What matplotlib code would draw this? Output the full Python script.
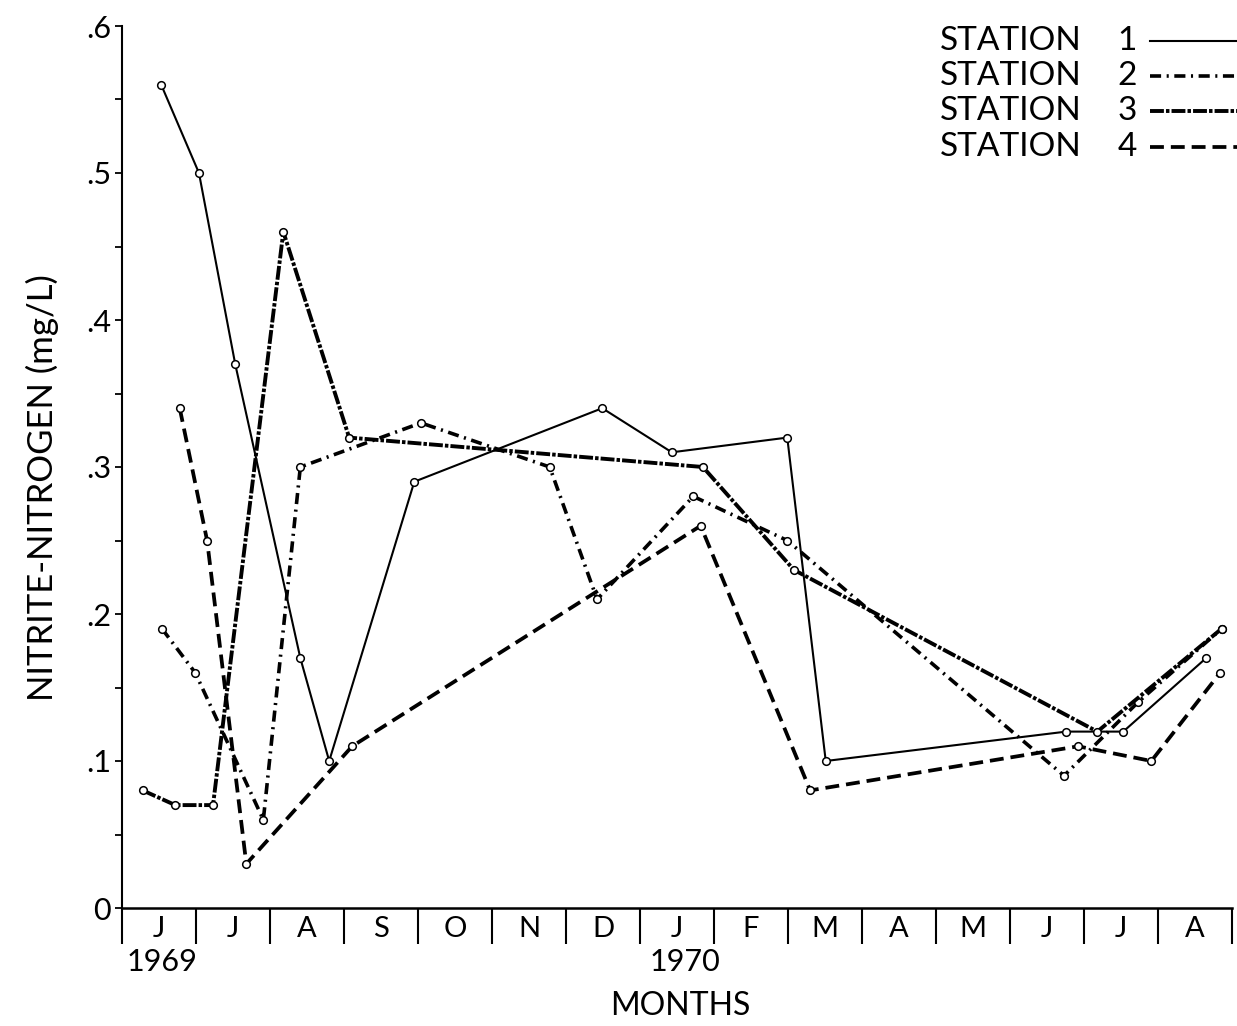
import matplotlib
matplotlib.use("Agg")
import matplotlib.pyplot as plt
from matplotlib.lines import Line2D

plt.rcParams['font.family'] = ['Lato', 'DejaVu Sans']
plt.rcParams['lines.scale_dashes'] = False

# month letters, June 1969 .. August 1970
months = ["J", "J", "A", "S", "O", "N", "D", "J", "F", "M", "A", "M", "J", "J", "A"]
years = ["1969", "1970"]
ytick_vals = [0, 0.1, 0.2, 0.3, 0.4, 0.5, 0.6]
ytick_labels = ["0", ".1", ".2", ".3", ".4", ".5", ".6"]

# x = months since start of June 1969
s1_x = [0.53, 1.04, 1.53, 2.41, 2.80, 3.95, 6.49, 7.43, 8.99, 9.51, 12.76, 13.53, 14.65]
s1_y = [0.56, 0.50, 0.37, 0.17, 0.10, 0.29, 0.34, 0.31, 0.32, 0.10, 0.12, 0.12, 0.17]

s2_x = [0.54, 0.99, 1.91, 2.41, 4.04, 5.78, 6.42, 7.72, 8.99, 12.73, 13.73, 14.86]
s2_y = [0.19, 0.16, 0.06, 0.30, 0.33, 0.30, 0.21, 0.28, 0.25, 0.09, 0.14, 0.19]

s3_x = [0.28, 0.72, 1.23, 2.18, 3.07, 7.85, 9.08, 13.18, 14.86]
s3_y = [0.08, 0.07, 0.07, 0.46, 0.32, 0.30, 0.23, 0.12, 0.19]

s4_x = [0.78, 1.15, 1.68, 3.11, 7.82, 9.30, 12.92, 13.91, 14.84]
s4_y = [0.34, 0.25, 0.03, 0.11, 0.26, 0.08, 0.11, 0.10, 0.16]

stations = ["1", "2", "3", "4"]

W, H = 1237, 1026
fig = plt.figure(figsize=(W / 100, H / 100), dpi=100)
ax = fig.add_axes([122 / W, 118 / H, 1110 / W, 882 / H])

styles = [
    dict(linestyle="-", lw=1.5),
    dict(dashes=(8, 4, 1.5, 4), lw=2.6),
    dict(dashes=(10, 1.5, 2.5, 1.5), lw=2.8),
    dict(dashes=(10, 5), lw=2.7),
]
data = [(s1_x, s1_y), (s2_x, s2_y), (s3_x, s3_y), (s4_x, s4_y)]

for (xs, ys), st in zip(data, styles):
    ax.plot(xs, ys, color="black", marker="o", markersize=5.5,
            markerfacecolor="white", markeredgecolor="black",
            markeredgewidth=1.1, **st)

ax.set_xlim(0, 15)
ax.set_ylim(0, 0.6)
ax.spines['top'].set_visible(False)
ax.spines['right'].set_visible(False)
ax.spines['left'].set_linewidth(1.5)
ax.spines['bottom'].set_linewidth(1.8)

# month boundaries as ticks, letters centred in each month
ax.set_xticks(range(16))
ax.set_xticklabels([])
ax.tick_params(axis='x', which='major', direction='out', length=26, width=1.5)
ax.set_xticks([i + 0.5 for i in range(15)], minor=True)
ax.set_xticklabels(months, minor=True, fontsize=21)
ax.tick_params(axis='x', which='minor', length=0, pad=6)

ax.set_yticks(ytick_vals)
ax.set_yticklabels(ytick_labels, fontsize=22)
ax.set_yticks([0.05, 0.15, 0.25, 0.35, 0.45, 0.55], minor=True)
ax.tick_params(axis='y', which='both', direction='out', length=5, width=1.3, pad=3)

fig.text(162 / W, 1 - 962 / H, years[0], fontsize=22, ha="center", va="center")
fig.text(685 / W, 1 - 962 / H, years[1], fontsize=22, ha="center", va="center")
fig.text(680 / W, 1 - 1006 / H, "MONTHS", fontsize=23, ha="center", va="center")
fig.text(42 / W, 1 - 488 / H, "NITRITE-NITROGEN (mg/L)", fontsize=25,
         rotation=90, ha="center", va="center")

# legend drawn by hand in the top right corner
rows = [41, 76, 111, 147]
for name, st, yy in zip(stations, styles, rows):
    fy = 1 - yy / H
    fig.text(940 / W, fy, "STATION", fontsize=24, ha="left", va="center")
    fig.text(1127 / W, fy, name, fontsize=24, ha="center", va="center")
    fig.add_artist(Line2D([1150 / W, 1.0], [fy, fy], transform=fig.transFigure,
                          color="black", **st))

fig.savefig("out.png", dpi=100)
